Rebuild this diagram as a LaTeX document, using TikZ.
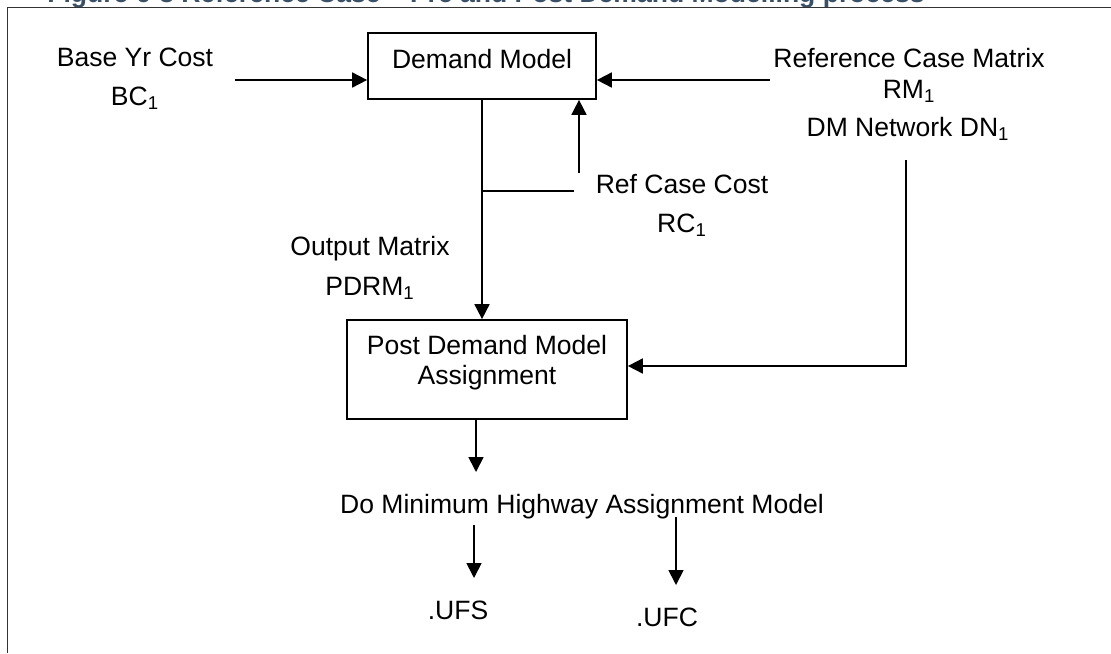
\documentclass[tikz,border=0pt]{standalone}
\usepackage{fontspec}
\setmainfont{Liberation Sans}
\usepackage{tikz}
\usetikzlibrary{arrows.meta}
\usetikzlibrary{positioning}
\definecolor{captionblue}{RGB}{58,80,102}

\begin{document}
\begin{tikzpicture}[x=0.02cm,y=-0.02cm,>={Triangle[length=0.3cm,width=0.3cm]},
  every node/.style={inner sep=0pt,font=\fontsize{15.1}{22.2}\selectfont},
  flow/.style={->,line width=0.035cm},
  tie/.style={line width=0.026cm},
  box/.style={draw,line width=0.035cm},
  lbl/.style={align=center,anchor=north}]

  \useasboundingbox (0,0) rectangle (1111,653);
  \clip (0,0) rectangle (1111,653);

  % caption and frame
  \node[anchor=base west,text=captionblue,font=\bfseries\fontsize{15.1}{18}\selectfont] (caption) at (47,2)
    {Figure 6-3 Reference Case -- Pre and Post Demand Modelling process};
  \draw[line width=0.03cm,black!80] (1111,7.5) -- (7.5,7.5) -- (7.5,653);

  % boxes
  \node[box,anchor=base,minimum width=4.56cm,text height=0.70cm,text depth=0.62cm] (dm) at (482,68) {Demand Model};
  \node[box,minimum width=5.6cm,minimum height=1.98cm] (post) at (487,369.5) {};
  \node[lbl,font=\fontsize{15.1}{17.1}\selectfont] (postlbl) [below=0.32cm of post.north] {Post Demand Model\\Assignment};

  % inputs and outputs
  \node[lbl] (bc) at (135,48) {Base Yr Cost\\BC\textsubscript{1}};
  \node[lbl,font=\fontsize{15.1}{17.6}\selectfont] (rm) at (909,48) {Reference Case Matrix\\RM\textsubscript{1}};
  \node[lbl] (dn) at (908,117) {DM Network DN\textsubscript{1}};
  \node[lbl] (rc) at (682,174) {Ref Case Cost\\RC\textsubscript{1}};
  \node[lbl,font=\fontsize{15.1}{22.8}\selectfont] (pdrm) at (370,236) {Output Matrix\\PDRM\textsubscript{1}};
  \node[lbl] (dmin) at (582,494) {Do Minimum Highway Assignment Model};
  \node[lbl] (ufs) at (458,601) {.UFS};
  \node[lbl] (ufc) at (667,608) {.UFC};

  % free ends of the connectors
  \coordinate (bcend) at (235,80);
  \coordinate (rmend) at (770,80);
  \coordinate (rcend) at (574,191);
  \coordinate (rcup) at (579,173);
  \coordinate (dntop) at (906,160);
  \coordinate (dmtip) at (476,472);
  \coordinate (ufstop) at (474,525);
  \coordinate (ufctop) at (676,517);

  \draw[flow] (bcend) -- (bcend -| dm.west);
  \draw[flow] (rmend) -- (rmend -| dm.east);
  \draw[flow] (dm.south) -- (dm.south |- post.north);
  \draw[tie] (dm.south |- rcend) -- (rcend);
  \draw[flow] (rcup) -- (rcup |- dm.south);
  \draw[flow] (dntop) |- ([yshift=0.07cm]post.east);
  \draw[flow] (dmtip |- post.south) -- (dmtip);
  \draw[flow] (ufstop) -- ++(0,53);
  \draw[flow] (ufctop) -- ++(0,68);
\end{tikzpicture}
\end{document}
